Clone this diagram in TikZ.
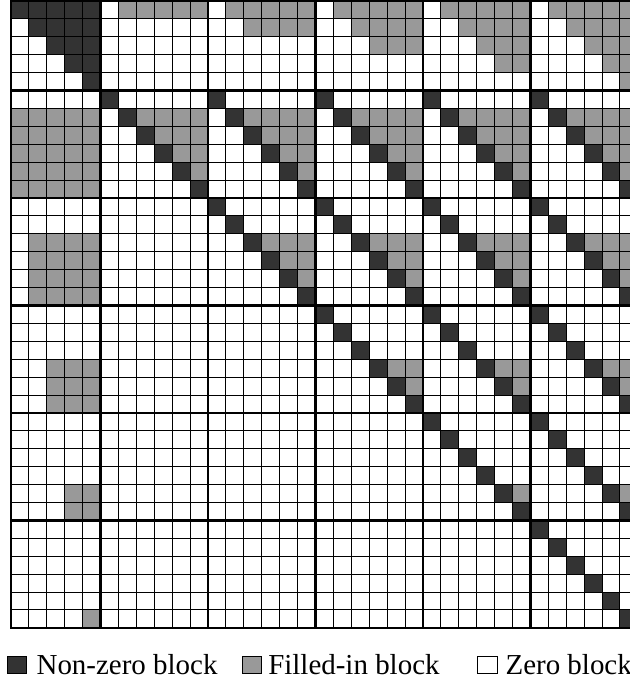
\documentclass[tikz,border=0pt]{standalone}
\usepackage{fontspec}
\setmainfont{Liberation Serif}
\usetikzlibrary{positioning}

\definecolor{nzgray}{gray}{0.2}
\definecolor{figray}{gray}{0.6}

% one cell of the block matrix: row, column, colour
\newcommand{\blkcell}[3]{\fill[#3] (#2-1,1-#1) rectangle (#2,-#1);}

\begin{document}
\begin{tikzpicture}[
  x=0.5cm,y=0.5cm,
  every node/.style={font=\fontsize{23}{27}\selectfont},
  key/.style={draw=black,line width=.6pt,minimum width=.54cm,
    minimum height=.5cm,inner sep=0pt},
  lab/.style={inner sep=0pt},
  cellline/.style={line width=.8pt},
  blockline/.style={line width=1.8pt}]
  \useasboundingbox (-0.614,0.056) rectangle (34.56,-38.08);

  % Non-zero blocks: leading triangle, then identity blocks above the diagonal.
  \foreach \r in {1,...,5}
    \foreach \c in {\r,...,5}
      {\blkcell{\r}{\c}{nzgray}}
  \foreach \i in {1,...,5}
    \foreach \j in {\i,...,5}
      \foreach \k in {1,...,6} {
        \pgfmathtruncatemacro\rr{6*\i-1+\k}
        \pgfmathtruncatemacro\cc{6*\j-1+\k}
        \blkcell{\rr}{\cc}{nzgray}
      }

  % Filled-in blocks: first block row.
  \foreach \j in {1,...,5}
    \foreach \r in {1,...,\j} {
      \pgfmathtruncatemacro\cs{\r+1}
      \foreach \c in {\cs,...,6} {
        \pgfmathtruncatemacro\cc{6*\j-1+\c}
        \blkcell{\r}{\cc}{figray}
      }
    }

  % Filled-in blocks: first block column.
  \foreach \i in {1,...,5} {
    \pgfmathtruncatemacro\rs{\i+1}
    \foreach \r in {\rs,...,6}
      \foreach \c in {\i,...,5} {
        \pgfmathtruncatemacro\rr{6*\i-1+\r}
        \blkcell{\rr}{\c}{figray}
      }
  }

  % Filled-in blocks: upper triangles of the identity blocks.
  \foreach \i in {1,...,4}
    \foreach \j in {\i,...,5} {
      \pgfmathtruncatemacro\rs{\i+1}
      \foreach \r in {\rs,...,5} {
        \pgfmathtruncatemacro\cs{\r+1}
        \foreach \c in {\cs,...,6} {
          \pgfmathtruncatemacro\rr{6*\i-1+\r}
          \pgfmathtruncatemacro\cc{6*\j-1+\c}
          \blkcell{\rr}{\cc}{figray}
        }
      }
    }

  % Cell grid and block borders.
  \draw[cellline,step=.5cm] (0,-35) grid (35,0);
  \foreach \b in {5,11,17,23,29} {
    \draw[blockline] (\b,0) -- (\b,-35);
    \draw[blockline] (0,-\b) -- (35,-\b);
  }
  \draw[blockline] (0,0) rectangle (35,-35);

  % Legend.
  \node[key,fill=nzgray] (nzkey) at (0.335,-37.07) {};
  \node[lab,right=.26cm of nzkey] (nzlab) {Non-zero block};
  \node[key,fill=figray] (fikey) at (13.44,-37.07) {};
  \node[lab,right=.175cm of fikey] (filab) {Filled-in block};
  \node[key,fill=white] (zkey) at (26.6,-37.07) {};
  \node[lab,right=.22cm of zkey] (zlab) {Zero block};
\end{tikzpicture}
\end{document}
